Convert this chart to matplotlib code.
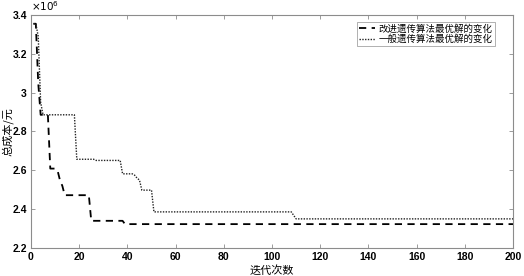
import matplotlib
matplotlib.use('Agg')
import matplotlib.pyplot as plt
from matplotlib.ticker import FuncFormatter

# breakpoints of the two convergence curves (iteration, total cost)
iter_improved = [1, 2, 3, 4, 7, 8, 10, 11, 12, 13, 14, 24, 25, 38, 39, 200]
cost_improved = [3.355e6, 3.355e6, 3.05e6, 2.886e6, 2.886e6, 2.609e6,
                 2.609e6, 2.60e6, 2.55e6, 2.52e6, 2.472e6, 2.472e6,
                 2.340e6, 2.340e6, 2.323e6, 2.323e6]

iter_general = [1, 2, 3, 4, 5, 18, 19, 26, 27, 37, 38, 42, 43, 44, 45,
                46, 50, 51, 108, 110, 200]
cost_general = [3.355e6, 3.355e6, 3.29e6, 2.95e6, 2.886e6, 2.886e6,
                2.657e6, 2.657e6, 2.651e6, 2.651e6, 2.582e6, 2.582e6,
                2.575e6, 2.56e6, 2.55e6, 2.498e6, 2.498e6, 2.386e6,
                2.386e6, 2.350e6, 2.350e6]

label_improved = '改进遗传算法最优解的变化'
label_general = '一般遗传算法最优解的变化'
yticks = [2.2e6, 2.4e6, 2.6e6, 2.8e6, 3.0e6, 3.2e6, 3.4e6]
xticks = [0, 20, 40, 60, 80, 100, 120, 140, 160, 180, 200]

cjk = ['Noto Sans CJK SC', 'DejaVu Sans']
spine_gray = '#8c8c8c'

fig = plt.figure(figsize=(5.24, 2.76), dpi=100)
ax = fig.add_axes([31 / 524, 28 / 276, 482 / 524, 233 / 276])

ax.plot(iter_improved, cost_improved, color='black', linestyle=(0, (4, 3)),
        linewidth=1.3, label=label_improved)
ax.plot(iter_general, cost_general, color='#222222', linestyle=(0, (1, 1)),
        linewidth=1.0, label=label_general)

ax.set_xlim(0, 200)
ax.set_ylim(2.2e6, 3.4e6)
ax.set_xticks(xticks)
ax.set_yticks(yticks)
ax.yaxis.set_major_formatter(FuncFormatter(lambda v, p: f'{v / 1e6:g}'))
ax.tick_params(direction='in', length=3, width=0.6, color=spine_gray,
               top=True, right=True, labelsize=7.5, pad=3)
for lab in ax.get_xticklabels() + ax.get_yticklabels():
    lab.set_fontweight('bold')
    lab.set_family('Liberation Sans')
for sp in ax.spines.values():
    sp.set_color(spine_gray)
    sp.set_linewidth(0.8)

ax.text(0.0, 1.01, r'$\times10^{6}$', transform=ax.transAxes,
        fontsize=7.5, va='bottom', ha='left', family='DejaVu Sans')

ax.set_xlabel('迭代次数', family=cjk, fontsize=8, labelpad=2)
ax.set_ylabel('总成本/元', family=cjk, fontsize=8)
ax.yaxis.set_label_coords(-0.036, 0.5)

leg = ax.legend(loc='upper right', bbox_to_anchor=(0.962, 0.972),
                prop={'family': cjk, 'size': 6.8}, frameon=True,
                fancybox=False, handlelength=1.6, handletextpad=0.4,
                borderpad=0.25, labelspacing=0.1, borderaxespad=0)
leg.get_frame().set_edgecolor(spine_gray)
leg.get_frame().set_linewidth(0.6)

fig.savefig('out.png', dpi=100)
